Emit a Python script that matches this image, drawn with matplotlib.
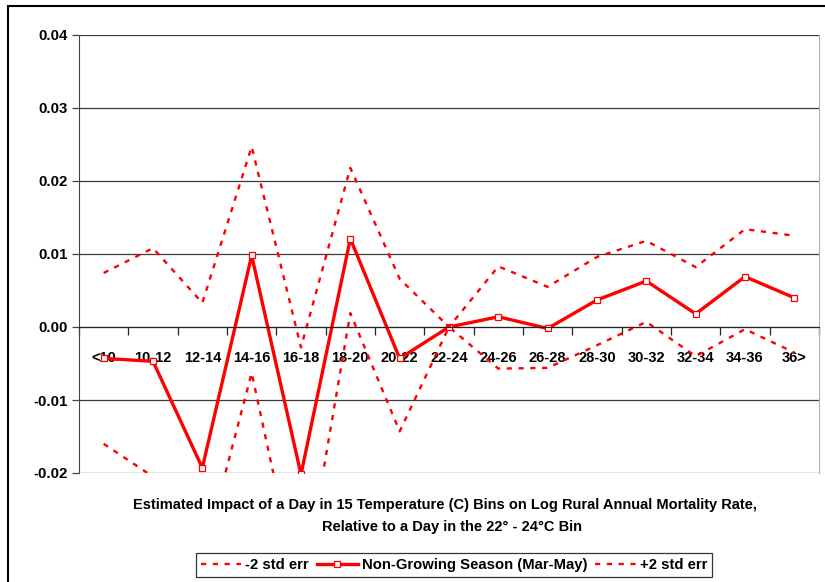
import matplotlib
matplotlib.use("Agg")
import matplotlib.pyplot as plt
from matplotlib.patches import Rectangle

# ----------- data -----------
bins = ["<10", "10-12", "12-14", "14-16", "16-18", "18-20", "20-22", "22-24",
        "24-26", "26-28", "28-30", "30-32", "32-34", "34-36", "36>"]
non_growing = [-0.0043, -0.0047, -0.0193, 0.0098, -0.0202, 0.0121, -0.0043, 0.0000,
               0.0014, -0.0002, 0.0037, 0.0063, 0.0018, 0.0069, 0.0040]
upper = [0.0074, 0.0108, 0.0033, 0.0247, -0.0028, 0.0218, 0.0066, 0.0000,
         0.0083, 0.0055, 0.0096, 0.0118, 0.0082, 0.0134, 0.0125]
lower = [-0.0160, -0.0205, -0.0320, -0.0063, -0.0376, 0.0019, -0.0143, 0.0000,
         -0.0057, -0.0056, -0.0025, 0.0007, -0.0040, -0.0003, -0.0035]
yticks = [-0.02, -0.01, 0.00, 0.01, 0.02, 0.03, 0.04]

plt.rcParams["font.family"] = ["Liberation Sans", "DejaVu Sans"]

W, H = 825, 582
fig = plt.figure(figsize=(W / 100, H / 100), dpi=100)
ax = fig.add_axes([79 / W, 1 - 473 / H, (819 - 79) / W, (473 - 35) / H])

x = [i + 0.5 for i in range(len(bins))]
red = "#ff0000"
dots = (0, (2.2, 2.8))
ax.plot(x, lower, color=red, lw=1.7, linestyle=dots, label="-2 std err")
ax.plot(x, non_growing, color=red, lw=2.4, marker="s", ms=4.5, mfc="white",
        mec=red, mew=0.9, label="Non-Growing Season (Mar-May)")
ax.plot(x, upper, color=red, lw=1.7, linestyle=dots, label="+2 std err")

ax.set_xlim(0, len(bins))
ax.set_ylim(-0.02, 0.04)
ax.set_yticks(yticks)
ax.set_yticklabels([f"{v:.2f}" for v in yticks], fontsize=10.8, fontweight="bold")
ax.yaxis.grid(True, color="#3a3a3a", lw=0.9)
ax.set_axisbelow(True)
ax.tick_params(axis="y", length=5, width=0.9, color="#444444", pad=3)

# x axis sits on zero; ticks at bin edges, labels at bin centres
ax.spines["bottom"].set_position(("data", 0))
ax.spines["bottom"].set_color("#222222")
ax.spines["top"].set_visible(False)
ax.spines["left"].set_color("#444444")
ax.spines["right"].set_color("#b0b0b0")
ax.set_xticks(range(len(bins) + 1))
ax.set_xticklabels([])
ax.tick_params(axis="x", which="major", direction="out", length=6, width=0.9, color="#222222")
ax.set_xticks(x, minor=True)
ax.set_xticklabels(bins, minor=True, fontsize=10.5, fontweight="bold")
ax.tick_params(axis="x", which="minor", length=0, pad=17)

# outer chart frame (only top/left visible in the crop)
fig.add_artist(Rectangle((8 / W, -0.2), 1.2, 1.2 - 6 / H, fill=False,
                         lw=1.5, ec="black", transform=fig.transFigure))

fig.text(445 / W, 1 - 505 / H,
         "Estimated Impact of a Day in 15 Temperature (C) Bins on Log Rural Annual Mortality Rate,",
         ha="center", va="center", fontsize=10.55, fontweight="bold")
fig.text(452 / W, 1 - 527 / H, "Relative to a Day in the 22\u00b0 - 24\u00b0C Bin",
         ha="center", va="center", fontsize=10.55, fontweight="bold")

leg = fig.legend(loc="center", bbox_to_anchor=(454 / W, 1 - 565 / H), ncol=3,
                 frameon=True, fancybox=False, edgecolor="black", fontsize=10.75,
                 handlelength=2.7, handletextpad=0.27, columnspacing=0.55,
                 borderpad=0.35, borderaxespad=0)
leg.get_frame().set_linewidth(0.9)
for t in leg.get_texts():
    t.set_fontweight("bold")

fig.savefig("out.png", dpi=100)
